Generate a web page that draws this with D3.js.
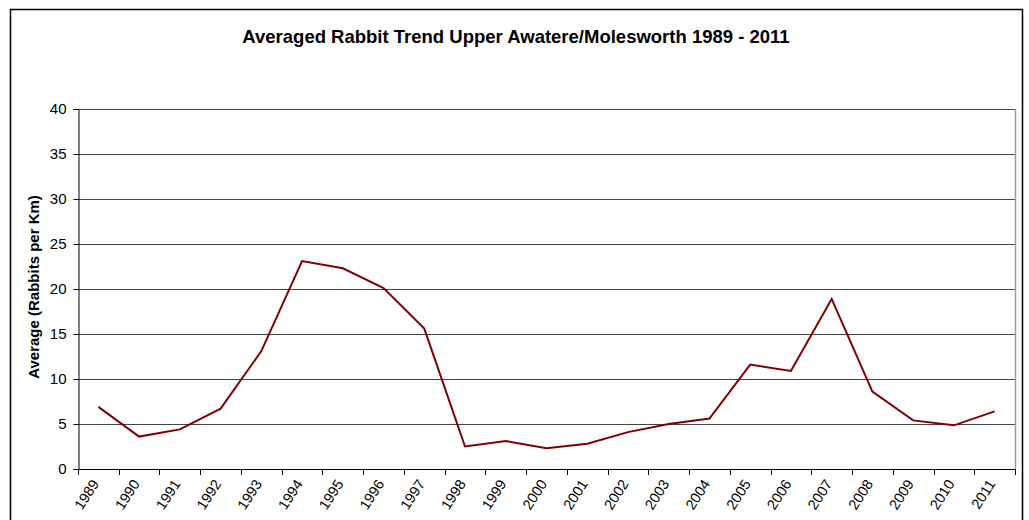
<!DOCTYPE html>
<html>
<head>
<meta charset="utf-8">
<script src="https://cdn.jsdelivr.net/npm/d3@7"></script>
<style>
  body { margin: 0; background: #fff; }
  svg text { font-family: "Liberation Sans", Arial, sans-serif; }
</style>
</head>
<body>
<div id="chart"></div>
<script>
var years = ["1989","1990","1991","1992","1993","1994","1995","1996","1997","1998","1999","2000",
             "2001","2002","2003","2004","2005","2006","2007","2008","2009","2010","2011"];
var rabbits = [6.9, 3.6, 4.4, 6.7, 13.1, 23.1, 22.3, 20.1, 15.6, 2.5, 3.1, 2.3,
               2.8, 4.1, 5.0, 5.6, 11.6, 10.9, 18.9, 8.6, 5.4, 4.85, 6.4];
var yTicks = [0, 5, 10, 15, 20, 25, 30, 35, 40];

var width = 1029, height = 520;
var plot = { left: 78, right: 1015, top: 109, bottom: 469 };

var svg = d3.select("#chart").append("svg")
    .attr("width", width)
    .attr("height", height);

// outer chart border
svg.append("rect")
    .attr("x", 10.5).attr("y", 9.5)
    .attr("width", 1012).attr("height", 530)
    .attr("fill", "none").attr("stroke", "#000").attr("stroke-width", 1.5);

svg.append("text")
    .attr("x", 516).attr("y", 43)
    .attr("text-anchor", "middle")
    .style("font-size", "18.5px").style("font-weight", "bold")
    .text("Averaged Rabbit Trend Upper Awatere/Molesworth 1989 - 2011");

var x = d3.scaleBand().domain(years).range([plot.left, plot.right]);
var y = d3.scaleLinear().domain([0, 40]).range([plot.bottom, plot.top]);

// gridlines
svg.selectAll(".grid")
    .data(yTicks.filter(function(d){ return d > 0; }))
    .enter().append("line")
    .attr("class", "grid")
    .attr("x1", plot.left).attr("x2", plot.right)
    .attr("y1", function(d){ return Math.round(y(d)) + 0.5; })
    .attr("y2", function(d){ return Math.round(y(d)) + 0.5; })
    .attr("stroke", "#444").attr("stroke-width", 1);

// plot area right border
svg.append("line")
    .attr("x1", plot.right + 0.5).attr("x2", plot.right + 0.5)
    .attr("y1", plot.top).attr("y2", plot.bottom)
    .attr("stroke", "#999").attr("stroke-width", 1.5);

// y axis
var yAxis = d3.axisLeft(y).tickValues(yTicks).tickSize(5).tickPadding(7);
var gy = svg.append("g")
    .attr("transform", "translate(" + (plot.left + 0.5) + ",0)")
    .call(yAxis);
gy.selectAll("text").style("font-size", "15px").style("fill", "#000")
    .style("font-family", "'Liberation Sans', Arial, sans-serif");
gy.selectAll("line, path").attr("stroke", "#000");

// x axis, ticks on band edges
var edges = years.map(function(d){ return x(d); }).concat([plot.right]);
svg.append("line")
    .attr("x1", plot.left).attr("x2", plot.right + 1)
    .attr("y1", plot.bottom + 0.5).attr("y2", plot.bottom + 0.5)
    .attr("stroke", "#000");
svg.selectAll(".xtick")
    .data(edges)
    .enter().append("line")
    .attr("class", "xtick")
    .attr("x1", function(d){ return Math.round(d) + 0.5; })
    .attr("x2", function(d){ return Math.round(d) + 0.5; })
    .attr("y1", plot.bottom).attr("y2", plot.bottom + 6)
    .attr("stroke", "#000");

svg.selectAll(".xlabel")
    .data(years)
    .enter().append("text")
    .attr("class", "xlabel")
    .attr("text-anchor", "end")
    .style("font-size", "14.5px")
    .attr("transform", function(d){
        return "translate(" + (x(d) + x.bandwidth() / 2 - 3) + "," + (plot.bottom + 12) + ") rotate(-57)";
    })
    .attr("dy", "0.35em")
    .text(function(d){ return d; });

// y axis title
svg.append("text")
    .attr("transform", "translate(39,287) rotate(-90)")
    .attr("text-anchor", "middle")
    .style("font-size", "15px").style("font-weight", "bold")
    .text("Average (Rabbits per Km)");

// line
var line = d3.line()
    .x(function(d, i){ return x(years[i]) + x.bandwidth() / 2; })
    .y(function(d){ return y(d); });

svg.append("path")
    .datum(rabbits)
    .attr("d", line)
    .attr("fill", "none")
    .attr("stroke", "#800000")
    .attr("stroke-width", 2);
</script>
</body>
</html>
